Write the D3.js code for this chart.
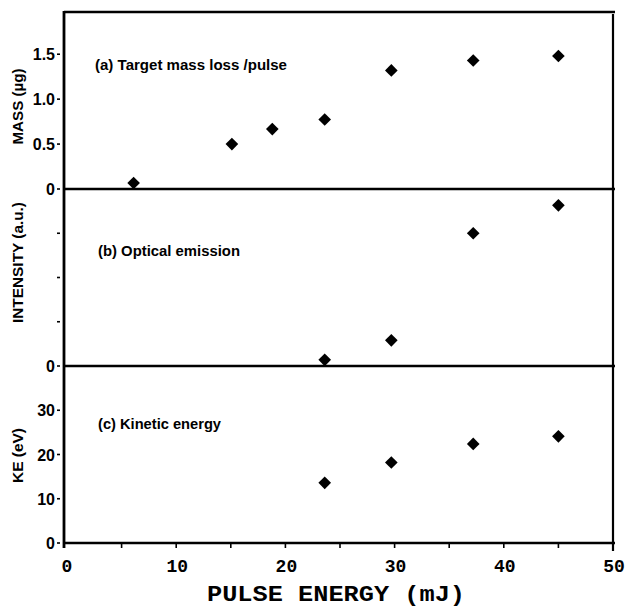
<!DOCTYPE html>
<html>
<head>
<meta charset="utf-8">
<script src="https://cdn.jsdelivr.net/npm/d3@7"></script>
<style>
  html, body { margin: 0; padding: 0; background: #fff; }
  svg { display: block; }
</style>
</head>
<body>
<svg id="chart" width="627" height="608"></svg>
<script>
// Pulse energy (mJ) for each measurement
const energyMass = [6.1, 15.1, 18.8, 23.6, 29.7, 37.2, 45.0];
const massLoss   = [0.067, 0.50, 0.667, 0.774, 1.32, 1.43, 1.48];   // µg per pulse

const energyPlume = [23.6, 29.7, 37.2, 45.0];
const emission    = [0.14, 0.58, 3.0, 3.63];                        // a.u.
const kinetic     = [13.6, 18.2, 22.4, 24.1];                       // eV

const xTicks = [0, 10, 20, 30, 40, 50];
const xMinorTicks = [5, 15, 25, 35, 45];

const panels = [
  { label: "(a) Target mass loss /pulse", labelW: 192, title: "MASS (µg)", titleW: 76,
    domain: [0, 1.97], top: 12, bottom: 189,
    ticks: [0, 0.5, 1.0, 1.5], tickText: ["0", "0.5", "1.0", "1.5"],
    xs: energyMass, ys: massLoss },
  { label: "(b) Optical emission", labelW: 142, title: "INTENSITY (a.u.)", titleW: 121,
    domain: [0, 4], top: 189, bottom: 366,
    ticks: [0, 1, 2, 3], tickText: ["0", "", "", ""],
    xs: energyPlume, ys: emission },
  { label: "(c) Kinetic energy", labelW: 123, title: "KE (eV)", titleW: 55,
    domain: [0, 40], top: 366, bottom: 543,
    ticks: [0, 10, 20, 30], tickText: ["0", "10", "20", "30"],
    xs: energyPlume, ys: kinetic }
];

const svg = d3.select("#chart");
const left = 64, right = 613;
const x = d3.scaleLinear().domain([0, 50]).range([67, 613]);

const sans = "'Liberation Sans', Arial, Helvetica, sans-serif";
const mono = "'Liberation Mono', 'Courier New', monospace";

const diamond = d3.symbol().type(d3.symbolSquare).size(80);

panels.forEach((p, i) => {
  const y = d3.scaleLinear().domain(p.domain).range([p.bottom, p.top]);
  const g = svg.append("g");

  // tick marks and labels on the left
  g.selectAll("line.tick").data(p.ticks).join("line")
    .attr("x1", 57).attr("x2", 60)
    .attr("y1", d => y(d)).attr("y2", d => y(d))
    .attr("stroke", "#000").attr("stroke-width", 1.6);
  g.selectAll("text.tick").data(p.ticks.map((t, k) => [t, p.tickText[k]])).join("text")
    .attr("x", 55).attr("y", d => y(d[0]) + 6)
    .attr("text-anchor", "end")
    .attr("font-family", sans).attr("font-weight", "bold").attr("font-size", 16)
    .text(d => d[1]);

  // rotated axis title
  const cy = (p.top + p.bottom) / 2 + (i === 0 ? 6 : i === 1 ? -15 : 1);
  g.append("text")
    .attr("transform", `translate(23,${cy}) rotate(-90)`)
    .attr("text-anchor", "middle")
    .attr("font-family", sans).attr("font-weight", "bold").attr("font-size", 14)
    .attr("textLength", p.titleW).attr("lengthAdjust", "spacingAndGlyphs")
    .text(p.title);

  // panel caption
  g.append("text")
    .attr("x", i === 0 ? 95 : 98).attr("y", p.top + (i === 0 ? 58 : i === 1 ? 67 : 63))
    .attr("font-family", sans).attr("font-weight", "bold").attr("font-size", 15)
    .attr("textLength", p.labelW).attr("lengthAdjust", "spacingAndGlyphs")
    .text(p.label);

  // data points
  g.selectAll("path.pt").data(p.xs.map((v, k) => [v, p.ys[k]])).join("path")
    .attr("d", diamond)
    .attr("transform", d => `translate(${x(d[0])},${y(d[1])}) rotate(45)`)
    .attr("fill", "#000");

  // panel baseline
  g.append("line")
    .attr("x1", left).attr("x2", right + 2)
    .attr("y1", p.bottom).attr("y2", p.bottom)
    .attr("stroke", "#000").attr("stroke-width", 2.5);
});

// frame: top edge, left and right edges
svg.append("line").attr("x1", left).attr("x2", right + 2).attr("y1", 12).attr("y2", 12)
  .attr("stroke", "#000").attr("stroke-width", 2.5);
svg.append("line").attr("x1", left).attr("x2", left).attr("y1", 11).attr("y2", 548)
  .attr("stroke", "#000").attr("stroke-width", 2.8);
svg.append("line").attr("x1", right).attr("x2", right).attr("y1", 14).attr("y2", 551)
  .attr("stroke", "#000").attr("stroke-width", 2.2);

// x axis ticks below the bottom panel
const xAxis = svg.append("g");
xAxis.selectAll("line.major").data(xTicks.slice(1, -1).concat(xMinorTicks)).join("line")
  .attr("x1", d => x(d)).attr("x2", d => x(d))
  .attr("y1", 543).attr("y2", 548)
  .attr("stroke", "#000").attr("stroke-width", 1.6);
xAxis.selectAll("text").data(xTicks).join("text")
  .attr("x", d => x(d) + (d === 0 ? 0 : 1)).attr("y", 572)
  .attr("text-anchor", "middle")
  .attr("font-family", mono).attr("font-weight", "bold").attr("font-size", 18)
  .text(d => d);

svg.append("text")
  .attr("x", 336).attr("y", 601)
  .attr("text-anchor", "middle")
  .attr("font-family", mono).attr("font-size", 22).attr("font-weight", "bold")
  .attr("textLength", 258).attr("lengthAdjust", "spacingAndGlyphs")
  .text("PULSE ENERGY  (mJ)");
</script>
</body>
</html>
